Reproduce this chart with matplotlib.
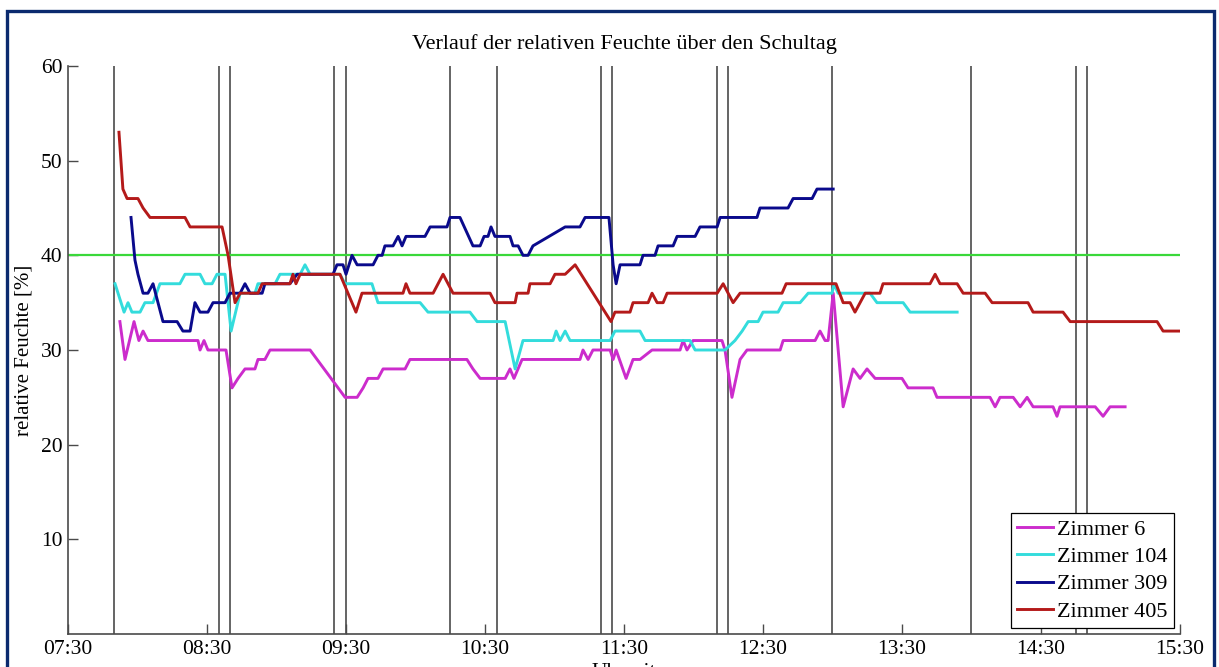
import matplotlib
matplotlib.use("Agg")
import matplotlib.pyplot as plt
from matplotlib.patches import Rectangle

plt.rcParams['font.family'] = ['Liberation Serif', 'DejaVu Serif']

# times are minutes after 07:30, values are relative humidity in %
t_z6 = [22.4, 24.6, 28.5, 30.6, 32.4, 34.5, 56.1, 57.0, 58.7, 60.4, 68.2, 70.8, 73.4, 76.4,
        80.7, 82.0, 85.0, 87.2, 104.5, 119.6, 124.8, 127.4, 129.5, 133.8, 136.0, 145.5,
        147.6, 172.2, 174.8, 177.9, 188.7, 190.8, 192.5, 196.0, 221.0, 222.3, 224.5, 226.6,
        234.0, 235.3, 236.6, 240.9, 243.9, 246.9, 252.1, 264.2, 265.5, 267.2, 269.8, 282.3,
        283.6, 286.6, 290.1, 293.1, 307.4, 308.7, 322.5, 324.6, 326.8, 328.1, 330.3, 334.6,
        338.9, 341.9, 344.9, 348.4, 360.0, 362.6, 373.4, 375.1, 398.0, 400.2, 402.3, 408.0,
        411.0, 414.0, 416.6, 425.2, 426.9, 428.2, 443.4, 446.8, 449.8, 456.3]
v_z6 = [33, 29, 33, 31, 32, 31, 31, 30, 31, 30, 30, 26, 27, 28,
        28, 29, 29, 30, 30, 25, 25, 26, 27, 27, 28, 28,
        29, 29, 28, 27, 27, 28, 27, 29, 29, 30, 29, 30,
        30, 29, 30, 27, 29, 29, 30, 30, 31, 30, 31, 31,
        30, 25, 29, 30, 30, 31, 31, 32, 31, 31, 36, 24,
        28, 27, 28, 27, 27, 26, 26, 25, 25, 24, 25, 25,
        24, 25, 24, 24, 23, 24, 24, 23, 24, 24]

t_z104 = [20.3, 24.2, 25.9, 27.6, 31.1, 33.2, 36.7, 39.7, 48.3, 50.5, 57.0, 59.1, 62.2, 64.3,
          67.8, 70.4, 74.3, 80.7, 82.0, 89.4, 91.5, 100.2, 102.3, 104.5, 117.4, 119.6, 131.2,
          133.8, 152.0, 155.4, 173.5, 176.6, 188.7, 193.0, 196.4, 209.4, 210.7, 212.4, 214.6,
          216.7, 234.0, 236.1, 246.9, 249.1, 268.5, 270.7, 283.6, 287.9, 291.0, 293.6, 297.9,
          300.0, 306.5, 308.7, 313.8, 316.0, 319.5, 329.8, 330.7, 332.4, 346.2, 349.2, 360.5,
          363.5, 383.8]
v_z104 = [37, 34, 35, 34, 34, 35, 35, 37, 37, 38, 38, 37, 37, 38,
          38, 32, 36, 36, 37, 37, 38, 38, 39, 38, 38, 37, 37,
          35, 35, 34, 34, 33, 33, 28, 31, 31, 32, 31, 32,
          31, 31, 32, 32, 31, 31, 30, 30, 31, 32, 33, 33,
          34, 34, 35, 35, 35, 36, 36, 37, 36, 36, 35, 35,
          34, 34]

t_z309 = [27.2, 28.9, 30.2, 32.4, 34.5, 36.7, 41.0, 47.1, 49.6, 52.7, 54.8, 57.0, 60.4, 62.6,
          67.8, 69.9, 74.3, 76.4, 78.6, 83.8, 85.0, 95.8, 98.9, 114.4, 116.1, 118.7, 120.0,
          122.6, 124.8, 131.7, 133.8, 135.6, 136.8, 140.3, 142.5, 144.2, 145.9, 154.1, 156.3,
          163.6, 164.9, 169.2, 174.8, 177.9, 179.6, 181.3, 182.6, 184.3, 190.8, 192.1, 194.3,
          196.4, 198.6, 200.7, 214.6, 221.0, 223.2, 233.5, 235.3, 236.6, 238.3, 246.9, 248.2,
          253.4, 254.7, 261.2, 262.9, 270.7, 272.8, 280.2, 281.5, 297.4, 298.7, 310.8, 313.0,
          321.2, 323.3, 330.3]
v_z309 = [44, 39.5, 38, 36, 36, 37, 33, 33, 32, 32, 35, 34, 34, 35,
          35, 36, 36, 37, 36, 36, 37, 37, 38, 38, 39, 39, 38,
          40, 39, 39, 40, 40, 41, 41, 42, 41, 42, 42, 43,
          43, 44, 44, 41, 41, 42, 42, 43, 42, 42, 41, 41,
          40, 40, 41, 43, 43, 44, 44, 39, 37, 39, 39, 40,
          40, 41, 41, 42, 42, 43, 43, 44, 44, 45, 45, 46,
          46, 47, 47]

t_z405 = [22.0, 23.7, 25.5, 30.2, 32.4, 35.4, 50.5, 52.7, 66.5, 69.1, 72.1, 74.3, 82.0, 83.8,
          95.8, 97.1, 98.4, 100.2, 117.4, 124.3, 126.9, 144.6, 145.9, 147.6, 157.6, 161.9,
          166.2, 182.2, 184.3, 193.0, 193.8, 198.6, 199.4, 208.1, 210.2, 214.6, 218.9, 234.4,
          236.1, 242.6, 243.9, 250.4, 252.1, 254.3, 256.9, 258.6, 280.2, 282.8, 287.1, 290.1,
          308.2, 310.0, 331.5, 334.6, 337.6, 339.7, 344.1, 350.5, 351.8, 372.1, 374.3, 376.4,
          383.8, 386.4, 395.9, 398.9, 414.4, 416.6, 429.5, 432.6, 470.1, 472.7, 480.0]
v_z405 = [53, 47, 46, 46, 45, 44, 44, 43, 43, 40, 35, 36, 36, 37,
          37, 38, 37, 38, 38, 34, 36, 36, 37, 36, 36, 38,
          36, 36, 35, 35, 36, 36, 37, 37, 38, 38, 39, 33,
          34, 34, 35, 35, 36, 35, 35, 36, 36, 37, 35, 36,
          36, 37, 37, 35, 35, 34, 36, 36, 37, 37, 38, 37,
          37, 36, 36, 35, 35, 34, 34, 33, 33, 32, 32]

# lesson start / end marks
breaks = ["07:50", "08:35", "08:40", "09:25", "09:30", "10:15", "10:35", "11:20", "11:25",
          "12:10", "12:15", "13:00", "14:00", "14:45", "14:50"]
tick_labels = ["07:30", "08:30", "09:30", "10:30", "11:30", "12:30", "13:30", "14:30", "15:30"]
limit = 40


def to_min(s):
    h, m = s.split(":")
    return int(h) * 60 + int(m) - (7 * 60 + 30)


fig = plt.figure(figsize=(12.19, 6.67), dpi=100)
ax = fig.add_axes([68 / 1219, 33 / 667, 1112 / 1219, 568 / 667])

ax.vlines([to_min(b) for b in breaks], 0, 60, color='#4a4a4a', lw=1.2, zorder=1)
ax.axhline(limit, color='#3ad83a', lw=1.6, zorder=2)

ax.plot(t_z6, v_z6, color='#cc2ccc', lw=2.1, label='Zimmer 6', zorder=3)
ax.plot(t_z104, v_z104, color='#33dcdc', lw=2.1, label='Zimmer 104', zorder=3)
ax.plot(t_z309, v_z309, color='#0a0a8c', lw=2.1, label='Zimmer 309', zorder=3)
ax.plot(t_z405, v_z405, color='#b41a1a', lw=2.1, label='Zimmer 405', zorder=3)

ax.set_xlim(0, 480)
ax.set_ylim(0, 60)
ax.set_xticks([to_min(t) for t in tick_labels])
ax.set_xticklabels(tick_labels)
ax.set_yticks([10, 20, 30, 40, 50, 60])

for s in ['top', 'right']:
    ax.spines[s].set_visible(False)
for s in ['left', 'bottom']:
    ax.spines[s].set_color('#4a4a4a')
    ax.spines[s].set_linewidth(1.2)
ax.tick_params(direction='in', length=7, width=1, color='#4a4a4a', labelsize=15.5, pad=4)

ax.set_title('Verlauf der relativen Feuchte über den Schultag', fontsize=16, pad=12)
ax.set_ylabel('relative Feuchte [%]', fontsize=15, labelpad=5)
ax.set_xlabel('Uhrzeit', fontsize=15.5, labelpad=3.5)

leg = ax.legend(loc='lower right', bbox_to_anchor=(0.995, 0.01), fontsize=16,
                fancybox=False, edgecolor='black', framealpha=1, handlelength=1.6,
                labelspacing=0.3, borderpad=0.3, handletextpad=0.2, borderaxespad=0)
leg.get_frame().set_linewidth(0.9)

fig.add_artist(Rectangle((7 / 1219, -0.05), 1207 / 1219, 0.05 + (667 - 11) / 667,
                         transform=fig.transFigure, fill=False, edgecolor='#0b2a6e', lw=2.4))

fig.savefig('out.png', dpi=100)
